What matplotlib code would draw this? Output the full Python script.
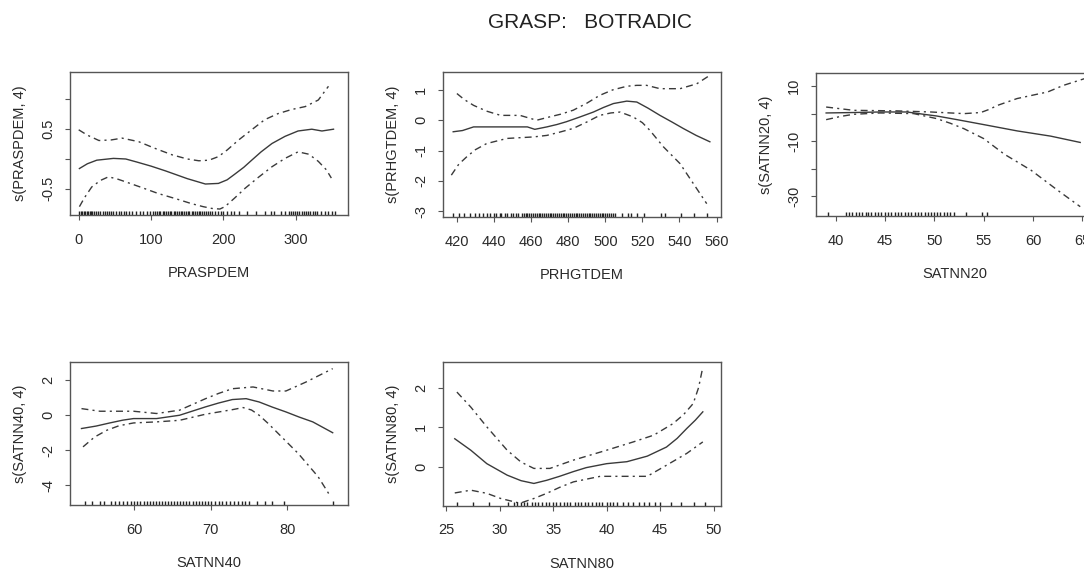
import matplotlib
matplotlib.use("Agg")
import matplotlib.pyplot as plt

plt.rcParams['font.family'] = ['Liberation Sans', 'DejaVu Sans']

W, H = 1084, 570
TITLE = "GRASP:   BOTRADIC"

# ---------------- Panel 1: PRASPDEM ----------------
p1_fit_x = [1, 12, 25, 48, 65, 80, 100, 120, 150, 175, 193, 205, 215, 228, 239, 252, 267, 285, 303, 322, 336, 352]
p1_fit_y = [-0.16, -0.08, -0.02, 0.01, 0.00, -0.05, -0.12, -0.20, -0.33, -0.42, -0.41, -0.35, -0.26, -0.14, -0.02, 0.12, 0.26, 0.38, 0.47, 0.50, 0.47, 0.50]
p1_up_x = [0, 12, 28, 45, 60, 83, 105, 129, 150, 166, 180, 193, 205, 221, 240, 257, 275, 294, 313, 331, 345]
p1_up_y = [0.49, 0.40, 0.31, 0.32, 0.35, 0.29, 0.18, 0.07, 0.00, -0.03, -0.02, 0.04, 0.15, 0.32, 0.50, 0.66, 0.76, 0.83, 0.88, 0.99, 1.22]
p1_lo_x = [1, 8, 18, 30, 41, 52, 64, 85, 110, 135, 156, 172, 184, 195, 202, 215, 230, 248, 267, 285, 303, 318, 331, 342, 349]
p1_lo_y = [-0.80, -0.65, -0.47, -0.36, -0.30, -0.33, -0.38, -0.47, -0.58, -0.67, -0.75, -0.80, -0.83, -0.84, -0.80, -0.66, -0.49, -0.31, -0.13, 0.01, 0.12, 0.08, -0.04, -0.18, -0.32]
p1_rug = [1, 3, 5, 7, 9, 11, 13, 15, 17, 19, 21, 24, 27, 30, 33, 36, 39, 42, 45, 48, 51,
          55, 58, 62, 66, 70, 74, 79, 84, 89, 94, 98, 102, 105, 108, 111, 113, 116, 118,
          121, 123, 126, 128, 131, 133, 136, 138, 141, 143, 146, 148, 151, 153, 156, 158,
          161, 163, 166, 168, 171, 173, 176, 178, 181, 184, 188, 192, 196, 200, 205, 210,
          215, 222, 232, 245, 258, 265, 270, 280, 285, 290, 293, 296, 299, 302, 305, 308,
          311, 314, 317, 320, 323, 326, 329, 335, 340, 345, 350, 354]
p1_xticks = [0, 100, 200, 300]
p1_yticks = [-0.5, 0.0, 0.5, 1.0]
p1_ylabels = ["-0.5", "", "0.5", ""]

# ---------------- Panel 2: PRHGTDEM ----------------
p2_fit_x = [418, 423, 429, 440, 458, 462, 468.5, 474, 479, 486, 493.6, 499, 504.4, 511.6, 517, 523, 529.5, 536, 542, 549, 556.4]
p2_fit_y = [-0.38, -0.34, -0.22, -0.22, -0.22, -0.30, -0.22, -0.14, -0.05, 0.10, 0.27, 0.42, 0.55, 0.63, 0.60, 0.40, 0.16, -0.06, -0.27, -0.50, -0.71]
p2_up_x = [420, 424, 429, 436, 443.6, 454, 463, 470, 476, 482.7, 490, 497, 504, 511.6, 517, 522.3, 529.5, 540.3, 549.3, 555.6]
p2_up_y = [0.88, 0.68, 0.49, 0.30, 0.16, 0.16, 0.00, 0.11, 0.20, 0.33, 0.56, 0.82, 1.00, 1.12, 1.15, 1.15, 1.04, 1.04, 1.20, 1.45]
p2_lo_x = [417, 421, 425.4, 430, 436, 447, 461.4, 468.5, 475, 482.7, 490, 497, 503, 508, 515, 520, 524, 531.4, 540.3, 547.5, 554.7]
p2_lo_y = [-1.81, -1.45, -1.20, -0.97, -0.77, -0.60, -0.55, -0.50, -0.40, -0.27, -0.06, 0.16, 0.24, 0.27, 0.11, -0.08, -0.33, -0.88, -1.43, -2.09, -2.75]
p2_rug = [418, 421, 424, 427, 430, 432, 434, 436, 438, 440, 441, 443, 444, 446, 447, 449,
          450, 452, 453, 455, 456, 457, 458, 459, 460, 461, 462, 463, 464, 465, 466, 467,
          468, 469, 470, 471, 472, 473, 474, 475, 476, 477, 478, 479, 480, 481, 482, 483,
          484, 485, 486, 487, 488, 489, 490, 491, 492, 493, 494, 495, 496, 497, 498, 499,
          500, 501, 502, 503, 504, 505, 509, 512, 514, 517, 521, 530, 532, 541, 548, 555]
p2_xticks = [420, 440, 460, 480, 500, 520, 540, 560]
p2_yticks = [-3, -2, -1, 0, 1]
p2_ylabels = ["-3", "-2", "-1", "0", "1"]

# ---------------- Panel 3: SATNN20 ----------------
p3_fit_x = [39, 41.8, 44.5, 47.2, 48.9, 50.2, 52.3, 55, 58.4, 61.8, 64.8]
p3_fit_y = [0.24, 0.4, 0.6, 0.6, -0.24, -0.85, -2.2, -4.0, -6.3, -8.2, -10.5]
p3_up_x = [39, 41.8, 46.2, 49.6, 53, 54.7, 55.6, 56.4, 58.4, 61.5, 63.1, 65.2]
p3_up_y = [2.4, 1.2, 1.0, 0.6, 0.0, 0.4, 1.6, 3.0, 5.5, 7.9, 10.3, 12.7]
p3_lo_x = [39, 40.5, 41.8, 44.5, 47.9, 50.2, 51.6, 53, 55, 57.1, 59.8, 62.5, 64.8]
p3_lo_y = [-2.2, -1.0, -0.24, 0.24, 0.0, -1.8, -3.5, -5.5, -9.1, -14.8, -20.6, -27.9, -33.9]
p3_rug = [39.2, 41, 41.3, 41.6, 42, 42.3, 42.6, 43, 43.3, 43.6, 44, 44.3, 44.6, 45, 45.3,
          45.6, 46, 46.3, 46.6, 47, 47.3, 47.6, 48, 48.3, 48.6, 49, 49.3, 49.6, 50, 50.3,
          50.6, 51, 51.3, 51.6, 52, 53.2, 54.8, 55.3]
p3_xticks = [40, 45, 50, 55, 60, 65]
p3_yticks = [-30, -20, -10, 0, 10]
p3_ylabels = ["-30", "", "-10", "", "10"]

# ---------------- Panel 4: SATNN40 ----------------
p4_fit_x = [53.1, 55, 56.8, 58.5, 59.9, 62.9, 65.9, 67.6, 69.3, 71, 72.8, 74.6, 76.3, 78, 79.8, 81.5, 83.3, 85.9]
p4_fit_y = [-0.76, -0.62, -0.44, -0.28, -0.19, -0.19, 0.0, 0.24, 0.48, 0.70, 0.90, 0.95, 0.76, 0.47, 0.19, -0.10, -0.38, -1.0]
p4_up_x = [53.1, 55.5, 59.9, 62.9, 65.9, 67.6, 69.3, 71, 72.8, 75.5, 78.1, 79.8, 82.4, 85.9]
p4_up_y = [0.38, 0.23, 0.23, 0.10, 0.29, 0.62, 0.95, 1.25, 1.52, 1.62, 1.39, 1.39, 1.90, 2.67]
p4_lo_x = [53.3, 54.8, 56.4, 58, 59.9, 62.9, 65.9, 69.3, 72.8, 74.2, 75.3, 76.3, 77.5, 78.8, 81.4, 84.0, 85.5]
p4_lo_y = [-1.81, -1.25, -0.86, -0.60, -0.44, -0.38, -0.29, 0.06, 0.32, 0.44, 0.30, 0.0, -0.48, -1.05, -2.19, -3.52, -4.57]
p4_rug = [53.5, 54.5, 55.5, 56, 57, 57.5, 58, 58.5, 59, 59.5, 60, 60.4, 60.8, 61.2, 61.6,
          62, 62.4, 62.8, 63.2, 63.6, 64, 64.4, 64.8, 65.2, 65.6, 66, 66.4, 66.8, 67.2,
          67.6, 68, 68.4, 68.8, 69.2, 69.6, 70, 70.5, 71, 71.5, 72, 72.5, 73, 73.5, 74,
          74.5, 75, 76, 77, 78, 79.5, 86]
p4_xticks = [60, 70, 80]
p4_yticks = [-4, -2, 0, 2]
p4_ylabels = ["-4", "-2", "0", "2"]

# ---------------- Panel 5: SATNN80 ----------------
p5_fit_x = [25.8, 27.3, 28.8, 30.7, 32, 33.2, 34.4, 35.6, 36.9, 38.1, 40.0, 41.9, 43.8, 45.6, 46.6, 47.5, 48.3, 49.0]
p5_fit_y = [0.71, 0.42, 0.08, -0.21, -0.35, -0.42, -0.34, -0.24, -0.12, -0.02, 0.08, 0.13, 0.27, 0.50, 0.72, 0.97, 1.18, 1.39]
p5_up_x = [26.0, 27.3, 28.8, 30.7, 32, 33.2, 34.7, 36.9, 40.0, 42.5, 44.4, 46.2, 47.2, 48.1, 48.6, 49.0]
p5_up_y = [1.89, 1.51, 1.01, 0.42, 0.12, -0.04, -0.04, 0.17, 0.42, 0.63, 0.80, 1.09, 1.32, 1.60, 2.0, 2.52]
p5_lo_x = [25.8, 27.3, 28.8, 30.1, 31.9, 33.2, 34.4, 35.6, 36.9, 39.4, 41.9, 43.8, 45.6, 47.5, 49.0]
p5_lo_y = [-0.66, -0.59, -0.67, -0.80, -0.92, -0.80, -0.67, -0.52, -0.38, -0.24, -0.24, -0.24, 0.04, 0.34, 0.63]
p5_rug = [26, 27.5, 29, 30.8, 31.3, 31.6, 32, 32.3, 32.6, 33, 33.3, 33.6, 34, 34.3, 34.6,
          35, 35.3, 35.6, 36, 36.3, 36.6, 37, 37.3, 37.6, 38, 38.3, 38.6, 39, 39.3, 39.6,
          40, 40.3, 40.6, 41, 41.5, 42, 42.5, 43, 43.5, 44, 44.5, 45, 46, 47, 48.2, 49.2]
p5_xticks = [25, 30, 35, 40, 45, 50]
p5_yticks = [0, 1, 2]
p5_ylabels = ["0", "1", "2"]

panels = [
    dict(name="PRASPDEM", box=(70, 72, 348, 215), xlim=(-12, 372), ylim=(-0.94, 1.46),
         fx=p1_fit_x, fy=p1_fit_y, ux=p1_up_x, uy=p1_up_y, lx=p1_lo_x, ly=p1_lo_y,
         rug=p1_rug, xt=p1_xticks, yt=p1_yticks, yl=p1_ylabels),
    dict(name="PRHGTDEM", box=(443, 72, 721, 217), xlim=(412.5, 562.4), ylim=(-3.19, 1.59),
         fx=p2_fit_x, fy=p2_fit_y, ux=p2_up_x, uy=p2_up_y, lx=p2_lo_x, ly=p2_lo_y,
         rug=p2_rug, xt=p2_xticks, yt=p2_yticks, yl=p2_ylabels),
    dict(name="SATNN20", box=(816, 73, 1094, 216), xlim=(37.97, 66.2), ylim=(-37.3, 14.8),
         fx=p3_fit_x, fy=p3_fit_y, ux=p3_up_x, uy=p3_up_y, lx=p3_lo_x, ly=p3_lo_y,
         rug=p3_rug, xt=p3_xticks, yt=p3_yticks, yl=p3_ylabels),
    dict(name="SATNN40", box=(70, 362, 348, 505), xlim=(51.6, 87.9), ylim=(-5.14, 3.05),
         fx=p4_fit_x, fy=p4_fit_y, ux=p4_up_x, uy=p4_up_y, lx=p4_lo_x, ly=p4_lo_y,
         rug=p4_rug, xt=p4_xticks, yt=p4_yticks, yl=p4_ylabels),
    dict(name="SATNN80", box=(443, 362, 721, 506), xlim=(24.7, 50.7), ylim=(-0.99, 2.65),
         fx=p5_fit_x, fy=p5_fit_y, ux=p5_up_x, uy=p5_up_y, lx=p5_lo_x, ly=p5_lo_y,
         rug=p5_rug, xt=p5_xticks, yt=p5_yticks, yl=p5_ylabels),
]

fig = plt.figure(figsize=(W / 100, H / 100), dpi=100)
fig.patch.set_facecolor("white")

LINE_C = "#3a3a3a"
TEXT_C = "#2a2a2a"
BOX_C = "#555555"
FS = 10.5
DASHDOT = (5, 3, 1.5, 3)

for p in panels:
    l, t, r, b = p["box"]
    ax = fig.add_axes([l / W, 1 - b / H, (r - l) / W, (b - t) / H])
    ax.set_xlim(*p["xlim"])
    ax.set_ylim(*p["ylim"])
    ax.plot(p["fx"], p["fy"], color=LINE_C, lw=1.0)
    ax.plot(p["ux"], p["uy"], color=LINE_C, lw=1.0, dashes=DASHDOT)
    ax.plot(p["lx"], p["ly"], color=LINE_C, lw=1.0, dashes=DASHDOT)
    ax.vlines(p["rug"], 0, 0.03, transform=ax.get_xaxis_transform(), color="#222222", lw=1.0)
    ax.set_xticks(p["xt"])
    ax.set_xticklabels([str(v) for v in p["xt"]])
    ax.set_yticks(p["yt"])
    ax.set_yticklabels(p["yl"], rotation=90, va="center")
    ax.tick_params(axis="both", direction="out", length=3.6, width=0.8, color=BOX_C,
                   labelsize=FS, labelcolor=TEXT_C)
    ax.tick_params(axis="x", pad=9)
    ax.tick_params(axis="y", pad=7)
    for s in ax.spines.values():
        s.set_color(BOX_C)
        s.set_linewidth(1.0)
    w_px = r - l
    h_px = b - t
    ax.text(0.5, -58 / h_px, p["name"], transform=ax.transAxes, ha="center", va="center",
            fontsize=FS, color=TEXT_C)
    ax.text(-50 / w_px, 0.5, "s(%s, 4)" % p["name"], transform=ax.transAxes, ha="center",
            va="center", rotation=90, fontsize=FS, color=TEXT_C)

fig.text(590 / W, 1 - 23 / H, TITLE, ha="center", va="center", fontsize=15, color="#222222")

fig.savefig("out.png", dpi=100, facecolor="white")
